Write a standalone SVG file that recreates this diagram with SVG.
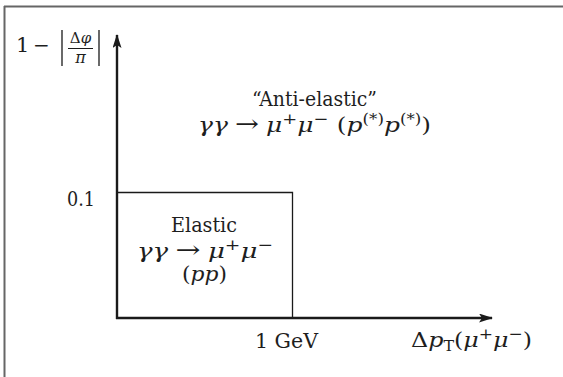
<svg xmlns="http://www.w3.org/2000/svg" width="563" height="377" viewBox="0 0 563 377">
<style>
text{font-family:"DejaVu Serif","Liberation Serif",serif;font-size:20px;fill:#1e1e1e}
.m{font-size:21px}
.it{font-style:italic}
.sup{font-size:15px;font-style:normal}
.sm{font-size:14px}
.arr{font-size:24px;font-style:normal}
.ax{stroke:#1a1a1a;stroke-width:2.4;fill:none}
.thin{stroke:#1a1a1a;stroke-width:1.3;fill:none}
</style>
<defs>
<marker id="ah" viewBox="0 0 14 9" refX="13" refY="4.5" markerWidth="14" markerHeight="9" markerUnits="userSpaceOnUse" orient="auto">
<path d="M0,0 L14,4.5 L0,9 L3,4.5 Z" fill="#1a1a1a"/>
</marker>
</defs>
<g id="frame">
<line x1="4" y1="6.5" x2="563" y2="6.5" stroke="#666" stroke-width="2"/>
<line x1="4.5" y1="6" x2="4.5" y2="377" stroke="#666" stroke-width="2"/>
</g>
<g id="connectors">
<line class="ax" x1="117" y1="319" x2="117" y2="35" marker-end="url(#ah)"/>
<line class="ax" x1="116" y1="318" x2="492" y2="318" marker-end="url(#ah)"/>
</g>
<g id="elastic-region">
<polyline class="thin" points="117,192.5 292.5,192.5 292.5,318"/>
<text x="171" y="232" textLength="66" lengthAdjust="spacingAndGlyphs">Elastic</text>
<text x="137" y="258" class="m" textLength="136" lengthAdjust="spacingAndGlyphs"><tspan class="it">γγ</tspan><tspan class="arr" dx="6">→</tspan><tspan class="it" dx="6">μ</tspan><tspan class="sup" dy="-8">+</tspan><tspan class="it" dy="8">μ</tspan><tspan class="sup" dy="-8">−</tspan></text>
<text x="182" y="281" class="m" textLength="45" lengthAdjust="spacingAndGlyphs">(<tspan class="it">pp</tspan>)</text>
</g>
<g id="anti-elastic-region">
<text x="252" y="106" textLength="125" lengthAdjust="spacingAndGlyphs">“Anti-elastic”</text>
<text x="198" y="132" class="m" textLength="233" lengthAdjust="spacingAndGlyphs"><tspan class="it">γγ</tspan><tspan class="arr" dx="6">→</tspan><tspan class="it" dx="6">μ</tspan><tspan class="sup" dy="-8">+</tspan><tspan class="it" dy="8">μ</tspan><tspan class="sup" dy="-8">−</tspan><tspan dy="8" dx="7">(</tspan><tspan class="it">p</tspan><tspan class="sm" dy="-8">(*)</tspan><tspan class="it" dy="8">p</tspan><tspan class="sm" dy="-8">(*)</tspan><tspan dy="8">)</tspan></text>
</g>
<g id="y-label">
<text y="52" class="m"><tspan x="16">1</tspan><tspan x="33" style="font-size:20px">−</tspan></text>
<line class="thin" x1="62" y1="30" x2="62" y2="66"/>
<text x="80.5" y="43" text-anchor="middle" style="font-size:15px">Δ<tspan class="it">φ</tspan></text>
<line x1="68" y1="48.5" x2="93" y2="48.5" stroke="#1a1a1a" stroke-width="1"/>
<text x="80.5" y="63" text-anchor="middle" class="it" style="font-size:16px">π</text>
<line class="thin" x1="99" y1="30" x2="99" y2="66"/>
</g>
<g id="ticks">
<text x="67" y="206" textLength="28" lengthAdjust="spacingAndGlyphs">0.1</text>
<text x="255" y="348" textLength="63" lengthAdjust="spacingAndGlyphs">1 GeV</text>
<text x="411" y="347" class="m" textLength="121" lengthAdjust="spacingAndGlyphs">Δ<tspan class="it">p</tspan><tspan class="sm" dy="4">T</tspan><tspan dy="-4">(</tspan><tspan class="it">μ</tspan><tspan class="sup" dy="-8">+</tspan><tspan class="it" dy="8">μ</tspan><tspan class="sup" dy="-8">−</tspan><tspan dy="8">)</tspan></text>
</g>
</svg>
